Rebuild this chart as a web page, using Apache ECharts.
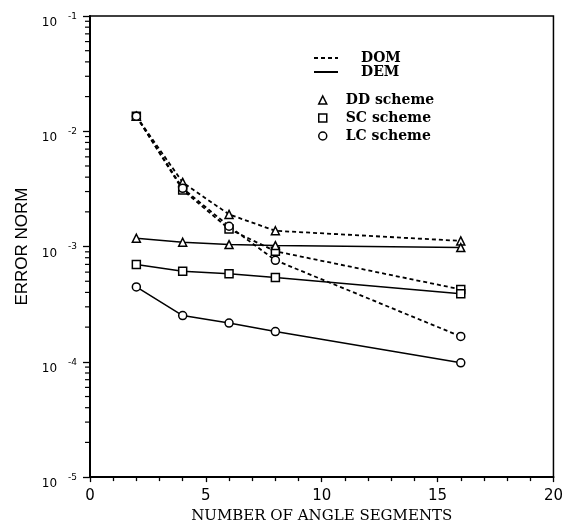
<!DOCTYPE html>
<html><head><meta charset="utf-8">
<script src="https://cdn.jsdelivr.net/npm/echarts@6/dist/echarts.min.js"></script>
<style>html,body{margin:0;padding:0;background:#fff}#c{width:566px;height:529px}</style>
</head><body><div id="c"></div>
<script>
// ---- data ----
const angleSegments = [2, 4, 6, 8, 16];
const domDD = [1.35e-2, 3.6e-3, 1.9e-3, 1.37e-3, 1.12e-3];
const domSC = [1.35e-2, 3.1e-3, 1.42e-3, 9.1e-4, 4.25e-4];
const domLC = [1.35e-2, 3.2e-3, 1.5e-3, 7.6e-4, 1.66e-4];
const demDD = [1.18e-3, 1.09e-3, 1.04e-3, 1.02e-3, 9.8e-4];
const demSC = [7.0e-4, 6.1e-4, 5.8e-4, 5.4e-4, 3.9e-4];
const demLC = [4.46e-4, 2.52e-4, 2.17e-4, 1.83e-4, 9.8e-5];
const xTickLabels = [0, 5, 10, 15, 20];
const yDecades = [1e-5, 1e-4, 1e-3, 1e-2, 1e-1];
const yMinorTicks = [
  2e-5, 3e-5, 4e-5, 5e-5, 6e-5, 7e-5, 8e-5, 9e-5,
  2e-4, 3e-4, 4e-4, 5e-4, 6e-4, 7e-4, 8e-4, 9e-4,
  2e-3, 3e-3, 4e-3, 5e-3, 6e-3, 7e-3, 8e-3, 9e-3,
  2e-2, 3e-2, 4e-2, 5e-2, 6e-2, 7e-2, 8e-2, 9e-2
];
const methodNames = ['DOM', 'DEM'];
const schemeNames = ['DD scheme', 'SC scheme', 'LC scheme'];

const pairs = ys => angleSegments.map((x, i) => [x, ys[i]]);
const markerStyle = { color: '#fff', borderColor: '#000', borderWidth: 1.5 };
const dotted = { color: '#000', width: 1.8, type: [4, 3] };
const solid = { color: '#000', width: 1.5, type: 'solid' };

function dataSeries(name, ys, symbol, lineStyle) {
  return {
    type: 'line', name: name, data: pairs(ys), symbol: symbol, symbolSize: 8,
    lineStyle: lineStyle, itemStyle: markerStyle, color: '#000', z: 3
  };
}

const chart = echarts.init(document.getElementById('c'), null, { renderer: 'canvas' });
chart.setOption({
  backgroundColor: '#fff',
  animation: false,
  grid: { left: 90, right: 12, top: 16, bottom: 48, show: true, borderColor: '#000', borderWidth: 1.5 },
  xAxis: {
    type: 'value', min: 0, max: 20, interval: 5,
    name: 'NUMBER OF ANGLE SEGMENTS', nameLocation: 'middle', nameGap: 24,
    nameTextStyle: { fontFamily: 'DejaVu Serif', fontSize: 15, color: '#000' },
    axisLine: { lineStyle: { color: '#000', width: 2 } },
    axisTick: { show: true, inside: false, length: 5, lineStyle: { color: '#000', width: 1.3 } },
    minorTick: { show: true, splitNumber: 5, length: 4, lineStyle: { color: '#000', width: 1.3 } },
    splitLine: { show: false },
    axisLabel: {
      margin: 12, color: '#000', fontFamily: 'DejaVu Sans', fontSize: 15,
      formatter: v => (xTickLabels.indexOf(v) >= 0 ? String(v) : '')
    }
  },
  yAxis: {
    type: 'log', logBase: 10, min: yDecades[0], max: yDecades[yDecades.length - 1],
    name: 'ERROR NORM', nameLocation: 'middle', nameGap: 53,
    nameTextStyle: { fontFamily: 'Liberation Sans', fontSize: 17, color: '#000' },
    axisLine: { show: true, lineStyle: { color: '#000', width: 2 } },
    axisTick: { show: true, inside: false, length: 7, lineStyle: { color: '#000', width: 1.3 } },
    splitLine: { show: false },
    axisLabel: {
      margin: 13, color: '#000',
      formatter: v => '{b|10}{s|' + Math.round(Math.log10(v)) + '}',
      rich: {
        b: { fontFamily: 'DejaVu Sans', fontSize: 12, color: '#000', padding: [14, 0, 0, 0] },
        s: { fontFamily: 'DejaVu Sans', fontSize: 9, color: '#000', padding: [9, 0, 0, 11], verticalAlign: 'top' }
      }
    }
  },
  legend: [
    {
      orient: 'vertical', left: 308, top: 46, itemWidth: 24, itemHeight: 10, itemGap: 0,
      selectedMode: false, data: methodNames,
      itemStyle: { color: 'rgba(0,0,0,0)', borderColor: 'rgba(0,0,0,0)', borderWidth: 0 },
      textStyle: { fontFamily: 'DejaVu Serif', fontWeight: 'bold', fontSize: 14, color: '#000', padding: [0, 0, 0, 18] }
    },
    {
      orient: 'vertical', left: 313, top: 88, itemWidth: 8, itemHeight: 8, itemGap: 4,
      selectedMode: false,
      data: [
        { name: schemeNames[0], icon: 'triangle' },
        { name: schemeNames[1], icon: 'rect' },
        { name: schemeNames[2], icon: 'circle' }
      ],
      itemStyle: { color: '#fff', borderColor: '#000', borderWidth: 1.5 },
      textStyle: { fontFamily: 'DejaVu Serif', fontWeight: 'bold', fontSize: 14, color: '#000', padding: [0, 0, 0, 14] }
    }
  ],
  series: [
    { type: 'line', name: methodNames[0], data: [], symbol: 'none', lineStyle: dotted, color: '#000' },
    { type: 'line', name: methodNames[1], data: [], symbol: 'none', lineStyle: solid, color: '#000' },
    dataSeries(schemeNames[0], domDD, 'triangle', dotted),
    dataSeries(schemeNames[1], domSC, 'rect', dotted),
    dataSeries(schemeNames[2], domLC, 'circle', dotted),
    dataSeries(schemeNames[0], demDD, 'triangle', solid),
    dataSeries(schemeNames[1], demSC, 'rect', solid),
    dataSeries(schemeNames[2], demLC, 'circle', solid),
    {
      type: 'custom', name: 'minor ticks', silent: true, clip: false, z: 5,
      data: yMinorTicks.map(v => [0, v]),
      renderItem: (params, api) => {
        const p = api.coord([api.value(0), api.value(1)]);
        return { type: 'line', shape: { x1: p[0] - 5, y1: p[1], x2: p[0], y2: p[1] },
                 style: { stroke: '#000', lineWidth: 1.2 } };
      }
    }
  ]
});
</script>
</body></html>
